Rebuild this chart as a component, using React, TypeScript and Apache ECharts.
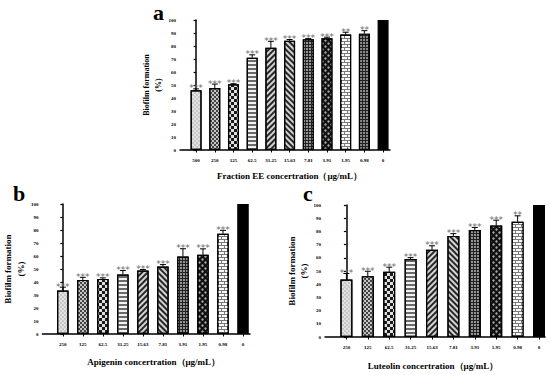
import React, { useEffect, useRef } from "react";
import * as echarts from "echarts";

// ---------- data ----------
const catsA = ["500", "250", "125", "62.5", "31.25", "15.63", "7.81", "3.91", "1.95", "0.98", "0"];
const valsA = [46, 47.7, 50.5, 71, 78.6, 84, 85.2, 86, 88.8, 89.5, 100];
const errA = [1, 3, 0.5, 2.2, 5, 1, 0.5, 0.8, 1.8, 2.3, 0];
const starsA = ["***", "***", "***", "***", "***", "***", "***", "***", "**", "**", ""];

const catsB = ["250", "125", "62.5", "31.25", "15.63", "7.81", "3.91", "1.95", "0.98", "0"];
const valsB = [33.4, 41.6, 42.4, 45.8, 48.8, 51.9, 59.6, 61, 77.1, 100];
const errB = [2.6, 2, 0.8, 3, 0.8, 1.5, 6, 4.5, 2.6, 0];
const starsB = ["***", "***", "***", "***", "***", "***", "***", "***", "***", ""];

const catsC = ["250", "125", "62.5", "31.25", "15.63", "7.81", "3.91", "1.95", "0.98", "0"];
const valsC = [43.6, 46.1, 49.4, 59.1, 66.1, 76.6, 81, 84.5, 87.3, 100];
const errC = [4.5, 3.7, 3.5, 1, 3, 1.7, 2, 4, 4.5, 0];
const starsC = ["***", "***", "***", "***", "***", "***", "***", "***", "**", ""];

const yTicks = ["0", "10", "20", "30", "40", "50", "60", "70", "80", "90", "100"];

const titleA = "Fraction EE concertration（μg/mL）";
const titleB = "Apigenin concertration（μg/mL）";
const titleC = "Luteolin concertration（μg/mL）";
const yTitle = "Biofilm formation\n(%)";

// ---------- styles ----------
const FONT = "Liberation Serif, Times New Roman, serif";

// bar colour = pattern background (decal draws the foreground marks on top)
type Pat = { color: string; decal?: any };
const patterns: Pat[] = [
  // 0 light stipple
  { color: "#e2e2e2", decal: { symbol: "rect", symbolSize: 0.6, symbolKeepAspect: false, color: "#858585", dashArrayX: [[1.5, 1.5], [0, 1.5, 1.5, 0]], dashArrayY: [1.5, 0] } },
  // 1 fine check
  { color: "#c4c4c4", decal: { symbol: "rect", symbolSize: 1, symbolKeepAspect: false, color: "#444", dashArrayX: [[1.2, 1.2], [0, 1.2, 1.2, 0]], dashArrayY: [1.2, 0] } },
  // 2 checkerboard
  { color: "#e0e0e0", decal: { symbol: "rect", symbolSize: 1, symbolKeepAspect: false, color: "#1a1a1a", dashArrayX: [[2.4, 2.4], [0, 2.4, 2.4, 0]], dashArrayY: [2.4, 0] } },
  // 3 horizontal stripes
  { color: "#f2f2f2", decal: { symbol: "rect", symbolSize: 1, symbolKeepAspect: false, color: "#6a6a6a", dashArrayX: [1, 0], dashArrayY: [1.4, 1.4] } },
  // 4 diagonal /
  { color: "#d4d4d4", decal: { symbol: "rect", symbolSize: 1, symbolKeepAspect: false, color: "#262626", dashArrayX: [1, 0], dashArrayY: [1.1, 1.1], rotation: -Math.PI / 4 } },
  // 5 diagonal \
  { color: "#d4d4d4", decal: { symbol: "rect", symbolSize: 1, symbolKeepAspect: false, color: "#262626", dashArrayX: [1, 0], dashArrayY: [1.1, 1.1], rotation: Math.PI / 4 } },
  // 6 grid
  { color: "#222", decal: { symbol: "rect", symbolSize: 1, symbolKeepAspect: false, color: "#959595", dashArrayX: [2, 1], dashArrayY: [2, 1] } },
  // 7 dark with light dots
  { color: "#111", decal: { symbol: "circle", symbolSize: 0.8, color: "#aaa", dashArrayX: [[2.6, 2.6], [0, 2.6, 2.6, 0]], dashArrayY: [2.6, 0] } },
  // 8 brick
  { color: "#7a7a7a", decal: { symbol: "rect", symbolSize: 1, symbolKeepAspect: false, color: "#fafafa", dashArrayX: [[5, 1], [2, 1, 3, 0]], dashArrayY: [2, 1] } },
  // 9 dark fine grid
  { color: "#222", decal: { symbol: "rect", symbolSize: 1, symbolKeepAspect: false, color: "#8a8a8a", dashArrayX: [1.3, 0.8], dashArrayY: [1.3, 0.8] } },
  // 10 solid black
  { color: "#000" },
];
const patIdxA = [0, 1, 2, 3, 4, 5, 6, 7, 8, 9, 10];
const patIdxBC = [0, 1, 2, 3, 4, 5, 6, 7, 8, 10];

function barSeries(vals: number[], pIdx: number[], ai: number, bw: number) {
  return {
    type: "bar",
    xAxisIndex: ai,
    yAxisIndex: ai,
    barWidth: bw,
    z: 2,
    data: vals.map((v, i) => {
      const p = patterns[pIdx[i]];
      return {
        value: [i, v],
        itemStyle: { color: p.color, decal: p.decal || "none", borderColor: "#000", borderWidth: 1.2 },
      };
    }),
  };
}

function errSeries(vals: number[], errs: number[], stars: string[], ai: number) {
  return {
    type: "custom",
    xAxisIndex: ai,
    yAxisIndex: ai,
    z: 5,
    encode: { x: 0, y: 1 },
    data: vals.map((v, i) => [i, v, errs[i]]),
    renderItem: (params: any, api: any) => {
      const x = api.value(0);
      const v = api.value(1);
      const e = api.value(2);
      const s = stars[params.dataIndex];
      if (!e && !s) return null;
      const p0 = api.coord([x, v]);
      const p1 = api.coord([x, v + e]);
      const children: any[] = [];
      if (e > 0) {
        children.push({ type: "line", shape: { x1: p0[0], y1: p0[1], x2: p1[0], y2: p1[1] }, style: { stroke: "#000", lineWidth: 1 } });
        children.push({ type: "line", shape: { x1: p1[0] - 3, y1: p1[1], x2: p1[0] + 3, y2: p1[1] }, style: { stroke: "#000", lineWidth: 1 } });
      }
      if (s) {
        children.push({
          type: "text",
          style: {
            text: s,
            x: p1[0],
            y: p1[1] - 0.5,
            align: "center",
            verticalAlign: "middle",
            fill: "#6a6a6a",
            fontSize: 9,
            fontWeight: "normal",
            fontFamily: "DejaVu Sans, sans-serif",
          },
        });
      }
      return { type: "group", children };
    },
  };
}

function xAxis(cats: string[], gi: number, min: number, max: number, name: string, gap: number, pad: number[]) {
  const idx = cats.map((_, i) => i);
  return {
    type: "value",
    gridIndex: gi,
    min,
    max,
    splitLine: { show: false },
    axisLine: { show: true, lineStyle: { color: "#000", width: 1.5 } },
    axisTick: { show: true, customValues: idx, length: 2.5, lineStyle: { color: "#000", width: 1 } },
    axisLabel: {
      customValues: idx,
      formatter: (v: number) => cats[Math.round(v)],
      fontSize: 5,
      fontWeight: "bold",
      fontFamily: FONT,
      color: "#000",
      margin: 8,
    },
    name,
    nameLocation: "middle",
    nameGap: gap,
    nameTextStyle: { fontSize: 9, fontWeight: "bold", fontFamily: FONT, color: "#000", padding: pad },
  };
}

function yAxis(gi: number, gap: number, fs: number, lh: number) {
  return {
    type: "value",
    gridIndex: gi,
    min: 0,
    max: 100,
    interval: 10,
    splitLine: { show: false },
    axisLine: { show: true, lineStyle: { color: "#000", width: 1.5 } },
    axisTick: { show: true, length: 2.5, lineStyle: { color: "#000", width: 1.2 } },
    axisLabel: {
      formatter: (v: number) => yTicks[Math.round(v / 10)],
      fontSize: 5,
      fontWeight: "bold",
      fontFamily: FONT,
      color: "#000",
      margin: 4,
    },
    name: yTitle,
    nameLocation: "middle",
    nameRotate: 90,
    nameGap: gap,
    nameTextStyle: { fontSize: fs, lineHeight: lh, fontWeight: "bold", fontFamily: FONT, color: "#000" },
  };
}

export default function App() {
  const ref = useRef<HTMLDivElement>(null);
  useEffect(() => {
    document.body.style.margin = "0";
    if (!ref.current) return;
    const chart = echarts.init(ref.current, null, { renderer: "svg" });
    const letter = (t: string, x: number, y: number) => ({
      type: "text",
      left: x,
      top: y,
      style: { text: t, fontSize: 22, fontWeight: "bold", fontFamily: FONT, fill: "#000" },
    });
    chart.setOption({
      animation: false,
      backgroundColor: "#fff",
      grid: [
        { left: 180, top: 20, width: 210, height: 130 },
        { left: 41, top: 204, width: 209, height: 130 },
        { left: 325, top: 205, width: 220, height: 132 },
      ],
      xAxis: [
        xAxis(catsA, 0, -0.86, 10.37, titleA, 21, [0, 0, 0, 9]),
        xAxis(catsB, 1, -1.02, 9.35, titleB, 23, [0, 0, 0, 15]),
        xAxis(catsC, 2, -1.0, 9.28, titleC, 24, [0, 4, 0, 0]),
      ],
      yAxis: [yAxis(0, 13, 8, 12), yAxis(1, 10.5, 9, 13), yAxis(2, 9, 9, 12)],
      series: [
        barSeries(valsA, patIdxA, 0, 11),
        errSeries(valsA, errA, starsA, 0),
        barSeries(valsB, patIdxBC, 1, 11.5),
        errSeries(valsB, errB, starsB, 1),
        barSeries(valsC, patIdxBC, 2, 12),
        errSeries(valsC, errC, starsC, 2),
      ],
      graphic: [letter("a", 153, 1), letter("b", 13, 182), letter("c", 303, 182)],
    });
    return () => chart.dispose();
  }, []);
  return <div ref={ref} style={{ width: 550, height: 375 }} />;
}
